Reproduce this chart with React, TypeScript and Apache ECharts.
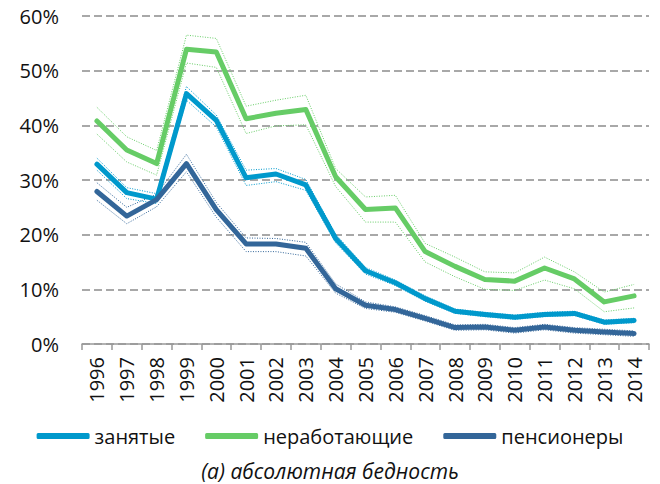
import React, { useEffect, useRef } from "react";
import * as echarts from "echarts";

const years = ["1996","1997","1998","1999","2000","2001","2002","2003","2004","2005","2006","2007","2008","2009","2010","2011","2012","2013","2014"];

const employed = [32.9, 27.7, 26.5, 45.8, 40.9, 30.4, 31.1, 29.1, 19.3, 13.4, 11.2, 8.3, 6.0, 5.4, 4.9, 5.4, 5.6, 4.0, 4.3];
const employedUpper = [34.0, 28.6, 27.5, 47.1, 41.9, 31.8, 32.1, 30.1, 20.1, 14.0, 11.7, 8.8, 6.4, 5.8, 5.3, 5.8, 6.0, 4.4, 4.7];
const employedLower = [31.8, 26.6, 25.7, 44.6, 39.7, 29.0, 29.7, 28.1, 18.5, 12.8, 10.7, 7.8, 5.6, 5.0, 4.5, 5.0, 5.2, 3.6, 3.9];

const unemployed = [40.8, 35.5, 33.0, 53.9, 53.4, 41.2, 42.2, 42.9, 30.6, 24.6, 24.9, 16.9, 14.2, 11.8, 11.5, 13.9, 11.9, 7.7, 8.8];
const unemployedUpper = [43.3, 37.9, 35.4, 56.5, 55.9, 43.5, 44.6, 45.5, 32.1, 26.9, 27.2, 18.4, 15.9, 13.2, 13.0, 15.9, 13.2, 9.5, 10.9];
const unemployedLower = [38.4, 33.3, 30.9, 51.4, 50.6, 38.5, 39.9, 40.1, 28.8, 22.3, 22.3, 15.0, 12.3, 10.0, 9.8, 11.7, 10.1, 5.9, 6.6];

const pensioners = [27.9, 23.4, 26.4, 33.0, 24.6, 18.3, 18.3, 17.5, 10.1, 7.1, 6.3, 4.7, 3.0, 3.1, 2.5, 3.1, 2.5, 2.2, 1.9];
const pensionersUpper = [29.5, 25.0, 27.4, 34.7, 25.9, 19.4, 19.3, 18.6, 11.0, 7.7, 6.8, 5.2, 3.5, 3.6, 3.0, 3.6, 3.0, 2.7, 2.4];
const pensionersLower = [26.3, 22.0, 25.1, 31.5, 23.2, 16.9, 16.9, 16.1, 9.3, 6.5, 5.8, 4.2, 2.5, 2.6, 2.0, 2.6, 2.0, 1.7, 1.4];

const yTicks = { min: 0, max: 60, interval: 10 };

const names = ["занятые", "неработающие", "пенсионеры"];
const titleText = "(a) абсолютная бедность";

const BLUE = "#0099CC";
const GREEN = "#66CC66";
const DARK = "#336699";
const FONT = "'Open Sans', sans-serif";

function band(name: string, data: number[], color: string) {
  return {
    name,
    type: "line",
    data,
    symbol: "none",
    z: 1,
    silent: true,
    lineStyle: { color, width: 1, type: [1, 1.5] },
    itemStyle: { color },
  };
}

function main(name: string, data: number[], color: string, z: number) {
  return {
    name,
    type: "line",
    data,
    symbol: "none",
    z,
    lineStyle: { color, width: 5, cap: "round", join: "round" },
    itemStyle: { color },
  };
}

export default function App() {
  const ref = useRef<HTMLDivElement>(null);
  useEffect(() => {
    if (!ref.current) return;
    const chart = echarts.init(ref.current, null, { renderer: "svg" });
    chart.setOption({
      animation: false,
      backgroundColor: "#ffffff",
      textStyle: { fontFamily: FONT },
      grid: { left: 82, right: 11, top: 16, bottom: 140 },
      title: {
        text: titleText,
        left: "center",
        top: 455,
        textStyle: { fontFamily: FONT, fontSize: 21, fontStyle: "italic", fontWeight: "normal", color: "#111" },
      },
      legend: {
        data: names,
        left: "center",
        top: 421,
        icon: "roundRect",
        itemWidth: 53,
        itemHeight: 6,
        itemGap: 30,
        textStyle: { fontFamily: FONT, fontSize: 20, color: "#111" },
      },
      xAxis: {
        type: "category",
        data: years,
        boundaryGap: true,
        axisLine: { lineStyle: { color: "#999999", width: 1.5 } },
        axisTick: { show: true, length: 6, lineStyle: { color: "#999999", width: 1.5 } },
        axisLabel: { rotate: 90, margin: 13, fontFamily: FONT, fontSize: 20, color: "#111", interval: 0 },
      },
      yAxis: {
        type: "value",
        min: yTicks.min,
        max: yTicks.max,
        interval: yTicks.interval,
        axisLine: { show: false },
        axisTick: { show: false },
        axisLabel: { formatter: "{value}%", margin: 23, fontFamily: FONT, fontSize: 20, color: "#111" },
        splitLine: { lineStyle: { color: "#8c8c8c", width: 1.5, type: [8, 4] } },
      },
      series: [
        band("занятые-верх", employedUpper, BLUE),
        band("занятые-низ", employedLower, BLUE),
        band("неработающие-верх", unemployedUpper, GREEN),
        band("неработающие-низ", unemployedLower, GREEN),
        band("пенсионеры-верх", pensionersUpper, DARK),
        band("пенсионеры-низ", pensionersLower, DARK),
        main(names[0], employed, BLUE, 4),
        main(names[1], unemployed, GREEN, 3),
        main(names[2], pensioners, DARK, 5),
      ],
    });
    return () => chart.dispose();
  }, []);
  return <div ref={ref} style={{ position: "fixed", left: 0, top: 0, width: 660, height: 484 }} />;
}
